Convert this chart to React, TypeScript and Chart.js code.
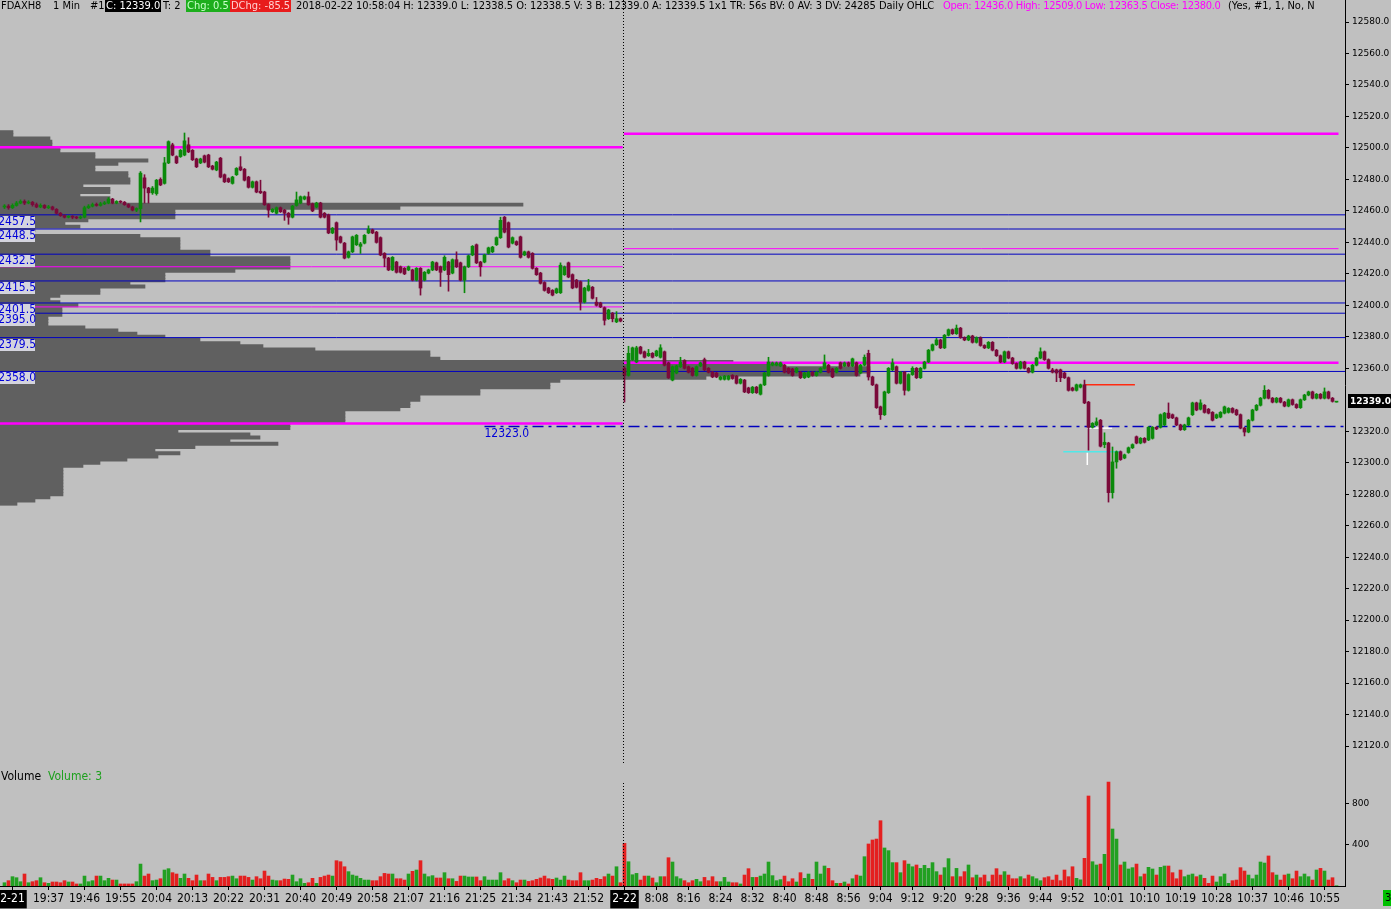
import React, { useEffect, useRef } from "react";
import { Chart, registerables } from "chart.js";

Chart.register(...registerables);

// ---------------- fonts / colours ----------------
const NARROW = "'Liberation Sans Narrow', 'DejaVu Sans Condensed', 'Arial Narrow', sans-serif";
const AXIS_FONT = "'DejaVu Sans', sans-serif";
const BG = "#c0c0c0";
const UP = "#0b8a0b";
const DOWN = "#7a0a3a";
const VOL_UP = "#22a022";
const VOL_DOWN = "#e42020";
const PROFILE_GRAY = "#606060";
const MAGENTA = "#ff00ff";
const BLUE = "#0000c0";

// ---------------- time axis ----------------
const PREV_SESSION = ["19:26", "22:00"];
const CURR_SESSION = ["08:00", "10:58"];
const TICK_TIMES = [
  "19:28", "19:37", "19:46", "19:55", "20:04", "20:13", "20:22", "20:31", "20:40", "20:49", "20:58",
  "21:07", "21:16", "21:25", "21:34", "21:43", "21:52",
  "08:00", "08:08", "08:16", "08:24", "08:32", "08:40", "08:48", "08:56", "09:04", "09:12", "09:20",
  "09:28", "09:36", "09:44", "09:52", "10:01", "10:10", "10:19", "10:28", "10:37", "10:46", "10:55",
];
const TICK_LABELS = [
  "2-21", "19:37", "19:46", "19:55", "20:04", "20:13", "20:22", "20:31", "20:40", "20:49", "20:58",
  "21:07", "21:16", "21:25", "21:34", "21:43", "21:52",
  "2-22", "8:08", "8:16", "8:24", "8:32", "8:40", "8:48", "8:56", "9:04", "9:12", "9:20",
  "9:28", "9:36", "9:44", "9:52", "10:01", "10:10", "10:19", "10:28", "10:37", "10:46", "10:55",
];
const DATE_LABELS = ["2-21", "2-22"];

// ---------------- price / volume axis ticks ----------------
const Y_TICKS = [
  12120, 12140, 12160, 12180, 12200, 12220, 12240, 12260, 12280, 12300, 12320,
  12360, 12380, 12400, 12420, 12440, 12460, 12480, 12500, 12520, 12540, 12560, 12580,
];
const VOL_TICKS = [400, 800];

// ---------------- previous session 2-21 (19:26 .. 22:00) ----------------
const PREV_OPEN = [
  12462.5, 12463, 12462, 12463.5, 12465, 12466, 12465, 12465.5, 12464, 12462.5,
  12463.5, 12462, 12462.5, 12461, 12458.5, 12457, 12456, 12456.5, 12456, 12455.5,
  12456, 12462, 12463, 12464, 12463.5, 12464.5, 12465, 12467.5, 12465, 12466,
  12465.5, 12464, 12462.5, 12460.5, 12461.5, 12481, 12474.5, 12471.5, 12471, 12480,
  12477.5, 12490.5, 12502, 12494.5, 12494.5, 12495.5, 12502, 12498.5, 12493, 12490.5,
  12495, 12495.5, 12488.5, 12486, 12493.5, 12483, 12480.5, 12477.5, 12483, 12488,
  12486.5, 12481.5, 12475, 12478.5, 12472.5, 12472, 12464, 12459.5, 12458.5, 12462,
  12460.5, 12458.5, 12456, 12463.5, 12465, 12467.5, 12469, 12464.5, 12462.5, 12465,
  12458.5, 12457.5, 12446, 12452.5, 12443.5, 12439.5, 12430.5, 12434, 12438.5, 12437.5,
  12439.5, 12446, 12448, 12446.5, 12443, 12433, 12430, 12422.5, 12427.5, 12424.5,
  12423.5, 12422.5, 12422.5, 12416, 12423.5, 12416, 12420.5, 12422.5, 12427, 12424.5,
  12422.5, 12427.5, 12420.5, 12429, 12427, 12416, 12424.5, 12432, 12438.5, 12427.5,
  12427.5, 12433, 12434, 12438.5, 12443, 12456, 12452.5, 12439.5, 12440.5, 12443.5,
  12432, 12434, 12433, 12423.5, 12420.5, 12414.5, 12411, 12409.5, 12408, 12408,
  12419.5, 12427, 12419.5, 12416, 12415, 12402, 12409.5, 12411.5, 12402, 12401.5,
  12398.5, 12391.5, 12395, 12389.5, 12391.5,
];
const PREV_HIGH = [
  12464, 12464, 12464.5, 12466, 12467, 12467, 12466.5, 12466, 12465, 12464.5,
  12464, 12463.5, 12463, 12461.5, 12459, 12457.5, 12457, 12457, 12456.5, 12457,
  12463, 12464, 12465, 12465, 12465.5, 12466, 12468.5, 12468, 12466.5, 12466.5,
  12466, 12464.5, 12463, 12462, 12485, 12483, 12475, 12475.5, 12480, 12481,
  12494, 12504.5, 12503, 12495, 12499, 12509.5, 12506.5, 12499, 12493.5, 12493.5,
  12495.5, 12496, 12489, 12491.5, 12494, 12483.5, 12481, 12482, 12487.5, 12494.5,
  12487, 12482, 12479, 12479, 12479.5, 12472.5, 12464.5, 12461.5, 12462.5, 12462.5,
  12461, 12459, 12463.5, 12472, 12469.5, 12469.5, 12472, 12465, 12465.5, 12465.5,
  12459, 12458, 12449.5, 12453, 12444, 12440, 12434.5, 12444, 12445, 12440,
  12445, 12450.5, 12448.5, 12447, 12443.5, 12433.5, 12430.5, 12431, 12428, 12425,
  12424, 12425, 12423, 12424, 12424, 12421.5, 12423, 12428, 12427.5, 12425,
  12431.5, 12428, 12429.5, 12434, 12427.5, 12425, 12432, 12438, 12439, 12428,
  12432.5, 12437, 12437.5, 12443.5, 12456, 12456.5, 12453, 12443.5, 12441, 12444,
  12434.5, 12434.5, 12433.5, 12424, 12421, 12415, 12411.5, 12410, 12411, 12427,
  12425, 12427.5, 12420, 12416.5, 12415.5, 12411.5, 12416.5, 12412, 12405, 12402,
  12399, 12397.5, 12395.5, 12396, 12392,
];
const PREV_LOW = [
  12461.5, 12461, 12461.5, 12463, 12464.5, 12464, 12464.5, 12463, 12462, 12462,
  12461.5, 12461.5, 12460.5, 12458, 12456.5, 12455.5, 12455.5, 12455, 12455, 12455,
  12455.5, 12461.5, 12462.5, 12463, 12463, 12464, 12464.5, 12464.5, 12464.5, 12465,
  12463.5, 12462, 12460, 12459.5, 12453, 12465, 12465, 12470.5, 12470, 12476,
  12477, 12490, 12495, 12490, 12494, 12495, 12497, 12492, 12487.5, 12490,
  12490.5, 12487.5, 12486, 12485.5, 12481, 12478, 12478, 12477, 12482.5, 12485.5,
  12479, 12474.5, 12474.5, 12471.5, 12471, 12463.5, 12456, 12459, 12458, 12459,
  12454, 12451.5, 12455.5, 12463, 12464.5, 12467, 12463.5, 12459.5, 12462, 12455.5,
  12455.5, 12445.5, 12445.5, 12435, 12439.5, 12429.5, 12430, 12433.5, 12438, 12433,
  12439, 12445.5, 12445.5, 12439.5, 12431.5, 12424.5, 12422, 12422, 12420.5, 12420.5,
  12419.5, 12422, 12415.5, 12415.5, 12406.5, 12415.5, 12420, 12422, 12422, 12412,
  12422, 12409, 12420, 12424, 12415.5, 12408, 12424, 12431.5, 12426.5, 12418.5,
  12427, 12432.5, 12433.5, 12438, 12442.5, 12446, 12436.5, 12439, 12438, 12430,
  12431.5, 12430, 12423, 12419, 12413.5, 12409, 12407.5, 12406, 12407.5, 12407.5,
  12419, 12417.5, 12410.5, 12411, 12397, 12401.5, 12409, 12404, 12399.5, 12398.5,
  12387.5, 12391, 12389.5, 12389, 12389.5,
];
const PREV_CLOSE = [
  12463, 12462, 12463.5, 12465, 12466, 12465, 12465.5, 12464, 12462.5, 12463.5,
  12462, 12462.5, 12461, 12458.5, 12457, 12456, 12456.5, 12456, 12455.5, 12456,
  12462, 12463, 12464, 12463.5, 12464.5, 12465, 12467.5, 12465, 12466, 12465.5,
  12464, 12462.5, 12460.5, 12461.5, 12484, 12474.5, 12471.5, 12474.5, 12479.5, 12476.5,
  12490.5, 12504, 12495.5, 12490.5, 12498.5, 12504.5, 12497.5, 12492.5, 12488, 12493,
  12491, 12488, 12486.5, 12491, 12481.5, 12478.5, 12478.5, 12481.5, 12487, 12486,
  12479.5, 12475, 12478.5, 12472, 12471.5, 12464, 12460.5, 12461, 12462, 12459.5,
  12458.5, 12456, 12463, 12467, 12469, 12469, 12464, 12460, 12465, 12456,
  12456, 12446, 12449, 12441.5, 12440, 12430, 12434, 12443.5, 12444.5, 12439,
  12444.5, 12448.5, 12446, 12440, 12432, 12430, 12422.5, 12430.5, 12421, 12421,
  12420, 12424.5, 12416, 12423.5, 12411, 12421, 12422.5, 12427.5, 12422.5, 12421,
  12430.5, 12419.5, 12429, 12424.5, 12416, 12424.5, 12431.5, 12437.5, 12427, 12424.5,
  12432, 12436.5, 12437, 12443, 12454, 12446.5, 12437, 12443, 12438.5, 12430.5,
  12434, 12430.5, 12423.5, 12419.5, 12414, 12409.5, 12408, 12406.5, 12410.5, 12425.5,
  12424.5, 12418, 12411, 12411.5, 12402, 12411, 12412.5, 12404.5, 12400, 12399,
  12390.5, 12397, 12391.5, 12391.5, 12390,
];
const PREV_VOLUME = [
  32, 52, 91, 81, 42, 117, 32, 42, 52, 81,
  32, 26, 39, 39, 32, 52, 39, 39, 20, 20,
  97, 42, 52, 97, 97, 52, 75, 58, 58, 20,
  20, 20, 20, 42, 214, 97, 117, 52, 58, 71,
  156, 169, 130, 117, 75, 117, 75, 52, 107, 52,
  52, 117, 84, 52, 84, 84, 91, 97, 71, 97,
  97, 84, 58, 91, 71, 146, 97, 58, 52, 52,
  68, 65, 107, 42, 71, 26, 32, 75, 26, 84,
  97, 107, 97, 247, 237, 188, 140, 107, 97, 75,
  58, 58, 52, 52, 91, 123, 117, 117, 71, 71,
  58, 117, 143, 156, 247, 117, 91, 101, 78, 78,
  130, 71, 71, 45, 97, 97, 88, 88, 88, 52,
  91, 58, 58, 58, 130, 52, 71, 52, 32, 58,
  58, 45, 52, 65, 78, 97, 71, 65, 78, 58,
  97, 58, 52, 52, 130, 52, 52, 58, 75, 65,
  91, 117, 97, 188, 32,
];

// ---------------- current session 2-22 (08:00 .. 10:58) ----------------
const CURR_OPEN = [
  12360, 12355.5, 12365.5, 12364, 12373.5, 12370.5, 12368, 12369.5, 12368, 12367,
  12370.5, 12363.5, 12352.5, 12357, 12361, 12365, 12361, 12360, 12355.5, 12361.5,
  12365.5, 12360, 12357.5, 12357, 12353, 12353, 12353, 12355.5, 12355, 12350.5,
  12352.5, 12347.5, 12344.5, 12348, 12343.5, 12349.5, 12355.5, 12362, 12362, 12361.5,
  12362, 12360, 12359.5, 12357.5, 12357.5, 12354, 12354.5, 12357.5, 12355.5, 12357.5,
  12360, 12362, 12359.5, 12357.5, 12363.5, 12361.5, 12363.5, 12361.5, 12363.5, 12357,
  12362, 12369.5, 12354.5, 12349.5, 12335.5, 12330.5, 12344.5, 12359, 12361, 12350.5,
  12357.5, 12346, 12356, 12360, 12354, 12360, 12364, 12371.5, 12375, 12378,
  12373, 12381, 12384.5, 12382, 12385.5, 12379.5, 12378, 12380.5, 12376.5, 12379.5,
  12374.5, 12373, 12376.5, 12371.5, 12368, 12364, 12370.5, 12366.5, 12363, 12360,
  12364, 12360, 12357.5, 12362, 12366.5, 12370.5, 12365.5, 12359, 12359, 12359,
  12357, 12354, 12347.5, 12346, 12348, 12349.5, 12338.5, 12322.5, 12324, 12327,
  12311.5, 12312.5, 12281, 12300.5, 12307, 12303, 12306.5, 12309.5, 12316.5, 12312.5,
  12315.5, 12314.5, 12315.5, 12322.5, 12322.5, 12324, 12331.5, 12330.5, 12328.5, 12324,
  12321, 12324, 12330.5, 12338, 12334, 12336.5, 12334, 12332, 12328.5, 12329,
  12331.5, 12332, 12334.5, 12333.5, 12330.5, 12322, 12319.5, 12327, 12333.5, 12336.5,
  12341, 12346, 12341, 12338.5, 12341, 12338.5, 12336, 12340, 12337, 12335,
  12340, 12343, 12345, 12341, 12343.5, 12341, 12345, 12341, 12338.5,
];
const CURR_HIGH = [
  12361, 12374, 12373.5, 12374, 12374, 12371, 12372, 12370, 12371.5, 12375,
  12371, 12364, 12361.5, 12362, 12367, 12365.5, 12361.5, 12360.5, 12361.5, 12364,
  12366.5, 12360.5, 12358, 12357.5, 12355, 12355.5, 12355.5, 12356, 12355.5, 12353.5,
  12353, 12348, 12348.5, 12348.5, 12350, 12357.5, 12367, 12364, 12364, 12364,
  12362.5, 12360.5, 12360, 12360.5, 12358, 12357.5, 12358, 12358, 12358, 12360.5,
  12368.5, 12362.5, 12360, 12360.5, 12364, 12364, 12364, 12366.5, 12364, 12362.5,
  12368.5, 12371.5, 12355, 12350, 12336, 12345.5, 12360.5, 12366, 12361.5, 12358,
  12358, 12356.5, 12361, 12360.5, 12360.5, 12364.5, 12372, 12375.5, 12379, 12378.5,
  12381.5, 12385, 12385, 12387.5, 12386, 12380, 12381, 12381, 12380, 12380,
  12375, 12377, 12377, 12372, 12368.5, 12371, 12371, 12367, 12363.5, 12364.5,
  12364.5, 12360.5, 12362.5, 12367, 12373, 12371, 12366, 12360, 12359.5, 12359.5,
  12357.5, 12354.5, 12348, 12350, 12350, 12352.5, 12339, 12325.5, 12328.5, 12327.5,
  12319, 12313, 12310, 12307.5, 12307.5, 12305.5, 12310, 12312, 12317, 12316,
  12316, 12323, 12323, 12323, 12331, 12332, 12338, 12331, 12329, 12324.5,
  12324.5, 12329, 12338.5, 12338.5, 12340, 12337, 12334.5, 12332.5, 12331, 12332.5,
  12336, 12335, 12335, 12334, 12331, 12322.5, 12327.5, 12334, 12337, 12341.5,
  12349, 12346.5, 12341.5, 12341.5, 12341.5, 12339, 12340.5, 12340.5, 12337.5, 12340.5,
  12343.5, 12345.5, 12345.5, 12344, 12344, 12347.5, 12345.5, 12341.5, 12339,
];
const CURR_LOW = [
  12338.5, 12355, 12365, 12363.5, 12369, 12366.5, 12367.5, 12366.5, 12367.5, 12366.5,
  12361.5, 12353.5, 12352, 12356.5, 12360.5, 12359.5, 12357, 12355, 12355, 12361,
  12358.5, 12357, 12354, 12354, 12352.5, 12352.5, 12352.5, 12353, 12350, 12350,
  12344.5, 12344, 12344, 12344, 12343, 12349, 12355, 12361.5, 12361.5, 12361,
  12357, 12356.5, 12355, 12357, 12353.5, 12353.5, 12354, 12355, 12355, 12357,
  12359.5, 12357, 12354, 12357, 12359.5, 12361, 12361, 12361, 12355, 12356.5,
  12361.5, 12352.5, 12349, 12334.5, 12327.5, 12330, 12344, 12358.5, 12350, 12350,
  12343, 12345.5, 12355.5, 12353.5, 12353.5, 12359.5, 12363.5, 12371, 12374.5, 12372.5,
  12372.5, 12380.5, 12381.5, 12381.5, 12379, 12377.5, 12377.5, 12376, 12376, 12374,
  12372.5, 12372.5, 12371, 12367.5, 12363.5, 12363.5, 12366, 12362.5, 12359.5, 12359.5,
  12359.5, 12357, 12357, 12361.5, 12366, 12365, 12359.5, 12357, 12351.5, 12351.5,
  12353.5, 12345.5, 12345.5, 12345.5, 12347.5, 12337.5, 12308, 12322, 12323.5, 12310,
  12309.5, 12275, 12277.5, 12296.5, 12301.5, 12302.5, 12306, 12309, 12312, 12312,
  12312.5, 12314, 12315, 12321, 12322, 12323.5, 12328, 12328, 12323.5, 12320.5,
  12320.5, 12323.5, 12330, 12333, 12333.5, 12331.5, 12331, 12326.5, 12328, 12328.5,
  12331, 12331.5, 12331.5, 12330, 12321.5, 12317, 12319, 12326.5, 12333, 12336,
  12340.5, 12340.5, 12338, 12338, 12338, 12335.5, 12335.5, 12336.5, 12334.5, 12334.5,
  12339.5, 12342.5, 12340.5, 12340.5, 12340.5, 12340.5, 12340.5, 12338.5, 12338.5,
];
const CURR_CLOSE = [
  12355.5, 12369.5, 12373, 12373, 12369.5, 12367, 12369.5, 12367, 12371, 12373,
  12362, 12354, 12361, 12361.5, 12364, 12360, 12357.5, 12355.5, 12361, 12363.5,
  12359, 12357.5, 12354.5, 12354.5, 12354.5, 12355, 12355, 12353.5, 12350.5, 12353,
  12345, 12344.5, 12348, 12344.5, 12349.5, 12357, 12364, 12363.5, 12363.5, 12363.5,
  12357.5, 12357, 12355.5, 12360, 12354, 12357, 12357.5, 12355.5, 12357.5, 12360,
  12363.5, 12357.5, 12354.5, 12360, 12360, 12363.5, 12361.5, 12366, 12355.5, 12362,
  12367, 12354.5, 12349.5, 12335, 12330.5, 12345, 12360, 12363.5, 12350.5, 12357.5,
  12346, 12356, 12360, 12354, 12360, 12364, 12371.5, 12375, 12378, 12373,
  12381, 12384.5, 12382, 12385.5, 12379.5, 12378, 12380.5, 12376.5, 12379.5, 12374.5,
  12373, 12376.5, 12371.5, 12368, 12364, 12370.5, 12366.5, 12363, 12360, 12364,
  12360, 12357.5, 12362, 12366.5, 12370.5, 12365.5, 12360, 12357.5, 12357, 12354,
  12354, 12346, 12346, 12349.5, 12349.5, 12338, 12322.5, 12325, 12326, 12310.5,
  12313, 12281, 12300.5, 12307, 12302, 12305, 12309.5, 12311.5, 12312.5, 12315.5,
  12313, 12322.5, 12322.5, 12321.5, 12330.5, 12331.5, 12328.5, 12328.5, 12324, 12321,
  12324, 12328.5, 12338, 12333.5, 12338, 12332, 12331.5, 12327, 12330.5, 12332,
  12335.5, 12334.5, 12332, 12330.5, 12322, 12319.5, 12327, 12333.5, 12336.5, 12341,
  12346, 12341, 12338.5, 12341, 12338.5, 12336, 12340, 12337, 12335, 12340,
  12343, 12345, 12341, 12343.5, 12341, 12345, 12341, 12339, 12339,
];
const CURR_VOLUME = [
  416, 237, 110, 123, 58, 97, 97, 78, 32, 91,
  91, 276, 234, 91, 71, 52, 32, 52, 65, 42,
  84, 52, 91, 42, 42, 84, 39, 32, 32, 20,
  107, 169, 84, 84, 97, 117, 234, 101, 52, 62,
  97, 42, 71, 39, 130, 75, 117, 65, 234, 117,
  195, 172, 52, 26, 26, 39, 20, 71, 107, 97,
  286, 410, 449, 458, 637, 371, 345, 228, 228, 130,
  247, 214, 188, 205, 172, 202, 172, 228, 140, 107,
  179, 267, 91, 172, 91, 140, 205, 81, 107, 81,
  107, 42, 107, 169, 107, 140, 107, 71, 71, 91,
  71, 107, 91, 71, 52, 81, 91, 58, 107, 52,
  156, 91, 188, 75, 60, 270, 878, 237, 205, 214,
  309, 1014, 556, 458, 205, 234, 166, 179, 214, 91,
  117, 182, 166, 107, 182, 195, 195, 130, 71, 156,
  91, 107, 117, 91, 107, 75, 26, 97, 39, 91,
  117, 26, 52, 58, 179, 146, 107, 71, 107, 234,
  224, 293, 130, 107, 58, 107, 117, 71, 146, 91,
  117, 91, 58, 156, 172, 146, 58, 81, 3,
];

// ---------------- volume profile of 2-21 (top price, 2-point rows) ----------------
const PROFILE_TOP = 12510;
const PROFILE_STEP = 2;
const PROFILE_VOLUME = [
  13, 13, 50, 52, 52, 60, 60, 95, 95, 148,
  118, 95, 95, 128, 128, 130, 130, 83, 110, 110,
  80, 110, 110, 523, 400, 175, 175, 175, 88, 65,
  80, 35, 25, 140, 180, 180, 180, 180, 210, 210,
  290, 290, 290, 290, 235, 165, 165, 165, 130, 145,
  100, 100, 60, 50, 60, 78, 62, 62, 62, 48,
  48, 48, 85, 118, 137, 165, 200, 240, 263, 315,
  430, 430, 440, 733, 783, 870, 870, 860, 706, 560,
  550, 550, 480, 480, 420, 420, 410, 410, 400, 345,
  345, 345, 345, 290, 290, 178, 250, 260, 230, 278,
  195, 155, 180, 158, 127, 100, 83, 63, 63, 63,
  63, 63, 63, 63, 63, 63, 50, 35, 17,
];

// ---------------- levels ----------------
const BLUE_LEVELS = [12457.5, 12448.5, 12432.5, 12415.5, 12401.5, 12395.0, 12379.5, 12358.0];
const PREV_DAY_LEVELS = [12500.5, 12424.5, 12399.0, 12325.0];
const PREV_DAY_THICK = [true, false, false, true];
const CURR_DAY_LEVELS = [12509.0, 12436.0, 12363.5];
const CURR_DAY_THICK = [true, false, true];
const VPOC_LEVEL = 12323.0;
const VPOC_START = "21:26";
const RED_LEVEL = 12349.5;
const RED_RANGE = [270.1, 282.6];
const WHITE_LEVEL = 12322.0;
const WHITE_RANGE = [270.7, 276.9];
const WHITE_TICK = [12306.5, 12298.5];
const CYAN_LEVEL = 12307.0;
const CYAN_RANGE = [264.7, 279.3];

// ---------------- derived ----------------
const toMinutes = (t: string) => {
  const [h, m] = t.split(":").map(Number);
  return h * 60 + m;
};
const sessionSlots = (s: string[]) => {
  const out: number[] = [];
  for (let m = toMinutes(s[0]); m <= toMinutes(s[1]); m++) out.push(m);
  return out;
};
const PREV_SLOTS = sessionSlots(PREV_SESSION);
const CURR_SLOTS = sessionSlots(CURR_SESSION);
const SLOTS = [...PREV_SLOTS, ...CURR_SLOTS];
const CURR_START = PREV_SLOTS.length;
const TICK_INDEX = TICK_TIMES.map((t) => SLOTS.indexOf(toMinutes(t)));

type Bar = { i: number; o: number; h: number; l: number; c: number; v: number };
const BARS: Bar[] = [
  ...PREV_OPEN.map((o, k) => ({ i: k, o, h: PREV_HIGH[k], l: PREV_LOW[k], c: PREV_CLOSE[k], v: PREV_VOLUME[k] })),
  ...CURR_OPEN.map((o, k) => ({
    i: CURR_START + k, o, h: CURR_HIGH[k], l: CURR_LOW[k], c: CURR_CLOSE[k], v: CURR_VOLUME[k],
  })),
];
const LAST = BARS[BARS.length - 1];
const barColor = (b: Bar) => (b.c >= b.o ? UP : DOWN);
const volColor = (b: Bar) => (b.c >= b.o ? VOL_UP : VOL_DOWN);

// view geometry (plot is 1345 px wide, 4 px per bar)
const PLOT_W = 1345;
const AXIS_W = 46;
const X_MIN = -1.125;
const X_MAX = X_MIN + PLOT_W / 4;
const PRICE_H = 770;
const VOL_H = 139;
const Y_MAX = 12594;
const Y_MIN = Y_MAX - PRICE_H / 1.5739;
const VOL_MAX = 1131.7;

const SESSION_X = CURR_START - 0.25;

const hline = (price: number, x0: number, x1: number, color: string, width: number, dash: number[] = []) => ({
  type: "line" as const,
  data: [
    { x: x0, y: price },
    { x: x1, y: price },
  ],
  borderColor: color,
  borderWidth: width,
  borderDash: dash,
  pointRadius: 0,
  fill: false,
  tension: 0,
  order: 5,
  xAxisID: "x",
  yAxisID: "y",
});

function priceConfig(): any {
  const lastIdx = LAST.i + 0.5;
  const levelSets: any[] = [
    ...BLUE_LEVELS.map((p) => hline(p, X_MIN, X_MAX, BLUE, 1)),
    ...PREV_DAY_LEVELS.map((p, k) => hline(p, X_MIN, SESSION_X - 0.2, MAGENTA, PREV_DAY_THICK[k] ? 2.5 : 1)),
    ...CURR_DAY_LEVELS.map((p, k) => hline(p, SESSION_X + 0.1, lastIdx, MAGENTA, CURR_DAY_THICK[k] ? 2.5 : 1)),
    hline(VPOC_LEVEL, SLOTS.indexOf(toMinutes(VPOC_START)), X_MAX, BLUE, 1.5, [11, 5, 3, 5]),
    hline(RED_LEVEL, RED_RANGE[0], RED_RANGE[1], "#ff2a10", 1.5),
    hline(CYAN_LEVEL, CYAN_RANGE[0], CYAN_RANGE[1], "#50e8e8", 1.5),
    hline(WHITE_LEVEL, WHITE_RANGE[0], WHITE_RANGE[1], "#ffffff", 1.5),
    {
      type: "line",
      data: [
        { x: WHITE_RANGE[0], y: WHITE_TICK[0] },
        { x: WHITE_RANGE[0], y: WHITE_TICK[1] },
      ],
      borderColor: "#ffffff",
      borderWidth: 1.5,
      pointRadius: 0,
      order: 5,
      xAxisID: "x",
      yAxisID: "y",
    },
  ];

  const overlay = {
    id: "priceOverlay",
    afterDatasetsDraw(chart: any) {
      const { ctx, chartArea, scales } = chart;
      const x = scales.x;
      const y = scales.y;
      ctx.save();
      ctx.font = `12px ${NARROW}`;
      ctx.textBaseline = "top";
      ctx.textAlign = "right";
      BLUE_LEVELS.forEach((p) => {
        const py = Math.round(y.getPixelForValue(p));
        ctx.fillStyle = "#d4d4de";
        ctx.fillRect(0, py + 1, 35, 12);
        ctx.fillStyle = "#0000d8";
        ctx.fillText(p.toFixed(1), 36, py + 1);
      });
      ctx.textAlign = "left";
      ctx.fillStyle = "#0000d8";
      const vx = x.getPixelForValue(SLOTS.indexOf(toMinutes(VPOC_START)));
      ctx.fillText(VPOC_LEVEL.toFixed(1), vx, Math.round(y.getPixelForValue(VPOC_LEVEL)) + 1);
      const sx = Math.floor(x.getPixelForValue(SESSION_X)) + 0.5;
      ctx.strokeStyle = "#000";
      ctx.lineWidth = 1;
      ctx.setLineDash([1, 2]);
      ctx.beginPath();
      ctx.moveTo(sx, 0);
      ctx.lineTo(sx, chartArea.bottom - 5);
      ctx.stroke();
      ctx.restore();
    },
    afterDraw(chart: any) {
      const { ctx, chartArea, scales } = chart;
      const cy = Math.round(scales.y.getPixelForValue(LAST.c));
      ctx.save();
      ctx.fillStyle = "#000";
      ctx.fillRect(chartArea.right + 3, cy - 7, 44, 14);
      ctx.fillStyle = "#fff";
      ctx.font = `bold 9px ${AXIS_FONT}`;
      ctx.textBaseline = "middle";
      ctx.textAlign = "left";
      ctx.fillText(LAST.c.toFixed(1), chartArea.right + 5, cy + 1);
      ctx.restore();
    },
  };

  return {
    type: "bar",
    data: {
      datasets: [
        {
          type: "bar",
          indexAxis: "y",
          xAxisID: "xp",
          yAxisID: "y",
          data: PROFILE_VOLUME.map((v, k) => ({ x: v, y: PROFILE_TOP - PROFILE_STEP * k })),
          backgroundColor: PROFILE_GRAY,
          barThickness: 3.3,
          grouped: false,
          order: 10,
        },
        ...levelSets,
        {
          type: "bar",
          xAxisID: "x",
          yAxisID: "y",
          data: BARS.map((b) => ({ x: b.i, y: [b.l, b.h] })),
          backgroundColor: BARS.map(barColor),
          barThickness: 1,
          grouped: false,
          order: 2,
        },
        {
          type: "bar",
          xAxisID: "x",
          yAxisID: "y",
          data: BARS.map((b) => ({ x: b.i, y: [b.o, b.c] })),
          backgroundColor: BARS.map(barColor),
          barThickness: 3,
          minBarLength: 1,
          grouped: false,
          order: 1,
        },
      ],
    },
    options: {
      responsive: false,
      animation: false,
      devicePixelRatio: 1,
      events: [],
      layout: { padding: 0 },
      plugins: { legend: { display: false }, tooltip: { enabled: false }, title: { display: false } },
      scales: {
        x: { type: "linear", min: X_MIN, max: X_MAX, display: false, offset: false, grid: { offset: false } },
        xp: { type: "linear", axis: "x", min: 0, max: PLOT_W, display: false, offset: false },
        y: {
          type: "linear",
          position: "right",
          min: Y_MIN,
          max: Y_MAX,
          offset: false,
          beginAtZero: false,
          afterBuildTicks: (s: any) => {
            s.ticks = Y_TICKS.map((v) => ({ value: v }));
          },
          afterFit: (s: any) => {
            s.width = AXIS_W;
            s.paddingTop = 0;
            s.paddingBottom = 0;
          },
          ticks: {
            callback: (v: any) => Number(v).toFixed(1),
            font: { family: AXIS_FONT, size: 9 },
            color: "#000",
            padding: 3,
          },
          grid: { drawOnChartArea: false, drawTicks: true, tickLength: 4, color: "#000", offset: false },
          border: { display: true, color: "#000", width: 1 },
        },
      },
    },
    plugins: [overlay],
  };
}

function volumeConfig(): any {
  const overlay = {
    id: "volumeOverlay",
    afterDraw(chart: any) {
      const { ctx, chartArea, scales } = chart;
      ctx.save();
      const sx = Math.floor(scales.x.getPixelForValue(SESSION_X)) + 0.5;
      ctx.strokeStyle = "#000";
      ctx.lineWidth = 1;
      ctx.setLineDash([1, 2]);
      ctx.beginPath();
      ctx.moveTo(sx, 13);
      ctx.lineTo(sx, chartArea.bottom);
      ctx.stroke();
      ctx.setLineDash([]);
      ctx.fillStyle = "#00c000";
      ctx.fillRect(chart.width - 8, chartArea.bottom + 4, 8, 16);
      ctx.fillStyle = "#000";
      ctx.font = `10px ${AXIS_FONT}`;
      ctx.textBaseline = "middle";
      ctx.textAlign = "left";
      ctx.fillText(String(LAST.v), chart.width - 6, chartArea.bottom + 12);
      ctx.restore();
    },
  };
  const isDate = (i: number) => DATE_LABELS.includes(TICK_LABELS[i]);
  return {
    type: "bar",
    data: {
      datasets: [
        {
          data: BARS.map((b) => ({ x: b.i, y: b.v })),
          backgroundColor: BARS.map(volColor),
          barThickness: 3,
          grouped: false,
        },
      ],
    },
    options: {
      responsive: false,
      animation: false,
      devicePixelRatio: 1,
      events: [],
      layout: { padding: 0 },
      plugins: { legend: { display: false }, tooltip: { enabled: false } },
      scales: {
        x: {
          type: "linear",
          min: X_MIN,
          max: X_MAX,
          offset: false,
          afterBuildTicks: (s: any) => {
            s.ticks = TICK_INDEX.map((v) => ({ value: v }));
          },
          afterFit: (s: any) => {
            s.height = 23;
            s.paddingLeft = 0;
            s.paddingRight = 0;
          },
          ticks: {
            autoSkip: false,
            maxRotation: 0,
            minRotation: 0,
            padding: 2,
            font: { family: NARROW, size: 12 },
            callback: (_v: any, i: number) => TICK_LABELS[i],
            color: (c: any) => (isDate(c.index) ? "#fff" : "#000"),
            showLabelBackdrop: (c: any) => isDate(c.index),
            backdropColor: "#000",
            backdropPadding: { top: 2, bottom: 2, left: 2, right: 2 },
          },
          grid: { drawOnChartArea: false, drawTicks: true, tickLength: 4, color: "#000", offset: false },
          border: { display: true, color: "#000", width: 1 },
        },
        y: {
          type: "linear",
          position: "right",
          min: 0,
          max: VOL_MAX,
          beginAtZero: false,
          afterBuildTicks: (s: any) => {
            s.ticks = VOL_TICKS.map((v) => ({ value: v }));
          },
          afterFit: (s: any) => {
            s.width = AXIS_W;
            s.paddingTop = 0;
            s.paddingBottom = 0;
          },
          ticks: {
            callback: (v: any) => String(v),
            font: { family: AXIS_FONT, size: 9 },
            color: "#000",
            padding: 3,
          },
          grid: { drawOnChartArea: false, drawTicks: true, tickLength: 4, color: "#000" },
          border: { display: true, color: "#000", width: 1 },
        },
      },
    },
    plugins: [overlay],
  };
}

const hdr: React.CSSProperties = {
  position: "absolute",
  top: 0,
  height: 12,
  lineHeight: "12px",
  fontFamily: NARROW,
  fontSize: 11,
  whiteSpace: "nowrap",
  color: "#000",
};

function Header() {
  const seg = (left: number, text: string, color = "#000", bg?: string, spacing = 0) => (
    <span style={{ ...hdr, left, color, background: bg, padding: bg ? "0 1px" : 0, letterSpacing: spacing }}>
      {text}
    </span>
  );
  return (
    <div style={{ position: "absolute", left: 0, top: 0, width: PLOT_W, height: 13, overflow: "hidden" }}>
      {seg(1, "FDAXH8")}
      {seg(53, "1 Min")}
      {seg(90, "#1")}
      {seg(105, `C: ${LAST.c.toFixed(1)}`, "#fff", "#000")}
      {seg(163, "T: 2")}
      {seg(186, "Chg: 0.5", "#c8ffc8", "#1cae1c")}
      {seg(230, "DChg: -85.5", "#ffd0d0", "#e81c1c")}
      {seg(
        296,
        `2018-02-22 10:58:04 H: ${LAST.h.toFixed(1)} L: ${LAST.l.toFixed(1)} O: ${LAST.o.toFixed(1)} V: ${LAST.v} B: 12339.0 A: 12339.5 1x1 TR: 56s BV: 0 AV: 3 DV: 24285 Daily OHLC`,
        "#000",
        undefined,
        -0.05
      )}
      {seg(943, "Open: 12436.0  High: 12509.0  Low: 12363.5  Close: 12380.0", "#ff00ff", undefined, -0.3)}
      {seg(1228, "(Yes, #1, 1, No, N")}
    </div>
  );
}

export default function App() {
  const priceRef = useRef<HTMLCanvasElement>(null);
  const volRef = useRef<HTMLCanvasElement>(null);
  useEffect(() => {
    document.body.style.margin = "0";
    document.body.style.background = BG;
    const pc = new Chart(priceRef.current as HTMLCanvasElement, priceConfig());
    const vc = new Chart(volRef.current as HTMLCanvasElement, volumeConfig());
    return () => {
      pc.destroy();
      vc.destroy();
    };
  }, []);
  return (
    <div style={{ position: "relative", width: 1391, height: 909, background: BG, overflow: "hidden" }}>
      <canvas ref={priceRef} width={1391} height={PRICE_H} style={{ position: "absolute", left: 0, top: 0 }} />
      <canvas ref={volRef} width={1391} height={VOL_H} style={{ position: "absolute", left: 0, top: PRICE_H }} />
      <Header />
      <div style={{ ...hdr, fontSize: 12, top: PRICE_H, left: 1 }}>Volume</div>
      <div style={{ ...hdr, fontSize: 12, top: PRICE_H, left: 48, color: "#1ea01e" }}>{`Volume: ${LAST.v}`}</div>
    </div>
  );
}
